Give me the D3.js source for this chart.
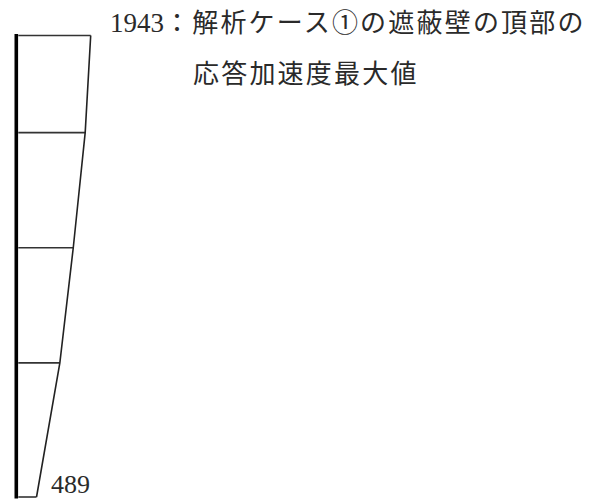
<!DOCTYPE html>
<html><head><meta charset="utf-8">
<script src="https://cdn.jsdelivr.net/npm/d3@7"></script>
<style>
html,body{margin:0;padding:0;background:#fff;}
svg{display:block;}
</style></head>
<body>
<script>
// Data
const levels = [461, 364, 249, 134, 0];            // height of each node (top → bottom)
const values = [1943, 1795, 1475, 1115, 489];      // response acceleration max at each node
const topLabelValue = "1943";
const topLabelText1 = "：解析ケース①の遮蔽壁の頂部の";
const topLabelText2 = "応答加速度最大値";
const bottomLabelValue = "489";

const W = 598, H = 500;
const svg = d3.select("body").append("svg").attr("width", W).attr("height", H);

const y = d3.scaleLinear().domain([0, 461]).range([497, 35.5]);
const x = d3.scaleLinear().domain([0, 1943]).range([18.3, 90.7]);

const nodes = levels.map((l, i) => ({ l, v: values[i] }));

// horizontal lines at each level
svg.selectAll("line.level").data(nodes).join("line")
  .attr("class", "level")
  .attr("x1", x(0)).attr("x2", d => x(d.v))
  .attr("y1", d => y(d.l)).attr("y2", d => y(d.l))
  .attr("stroke", "#333").attr("stroke-width", 1.6);

// profile polyline
svg.append("path")
  .datum(nodes)
  .attr("d", d3.line().x(d => x(d.v)).y(d => y(d.l)))
  .attr("fill", "none").attr("stroke", "#222").attr("stroke-width", 1.6);

// thick base axis
svg.append("line")
  .attr("x1", 16.3).attr("x2", 16.3)
  .attr("y1", y(461) - 1.5).attr("y2", y(0) + 1.5)
  .attr("stroke", "#000").attr("stroke-width", 3.6);

const fam = "'Liberation Serif', 'Noto Sans CJK JP', serif";
const cjk = "'Noto Sans CJK JP', sans-serif";

// top label
const t1 = svg.append("text").attr("x", 110).attr("y", 32)
  .attr("font-family", fam).attr("font-size", 27).attr("fill", "#2a2a2a");
t1.append("tspan").text(topLabelValue);
t1.append("tspan").attr("font-family", cjk).attr("font-size", 26)
  .attr("letter-spacing", 2.2).text(topLabelText1);

svg.append("text").attr("x", 193).attr("y", 83)
  .attr("font-family", cjk).attr("font-size", 26)
  .attr("letter-spacing", 2.2).attr("fill", "#2a2a2a")
  .text(topLabelText2);

// bottom label
svg.append("text").attr("x", 51).attr("y", 493)
  .attr("font-family", fam).attr("font-size", 26).attr("fill", "#2a2a2a")
  .text(bottomLabelValue);
</script>
</body></html>
